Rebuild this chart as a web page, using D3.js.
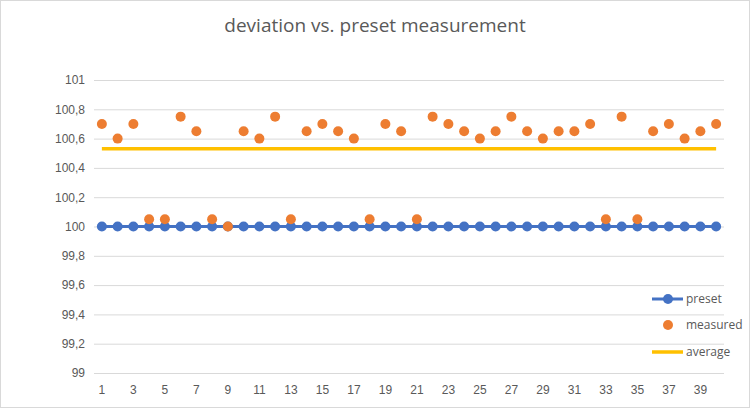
<!DOCTYPE html>
<html><head><meta charset="utf-8">
<script src="https://cdn.jsdelivr.net/npm/d3@7"></script>
<style>body{margin:0;background:#fff}svg{display:block;font-family:"Open Sans",Lato,sans-serif}</style>
</head><body><svg id="c" width="750" height="408"></svg>
<script>
const categories = d3.range(1, 41);
const preset = [100,100,100,100,100,100,100,100,100,100,100,100,100,100,100,100,100,100,100,100,100,100,100,100,100,100,100,100,100,100,100,100,100,100,100,100,100,100,100,100];
const measured = [100.7,100.6,100.7,100.05,100.05,100.75,100.65,100.05,100,100.65,100.6,100.75,100.05,100.65,100.7,100.65,100.6,100.05,100.7,100.65,100.05,100.75,100.7,100.65,100.6,100.65,100.75,100.65,100.6,100.65,100.65,100.7,100.05,100.75,100.05,100.65,100.7,100.6,100.65,100.7];
const averageValue = 100.53;
const yTicks = [99,99.2,99.4,99.6,99.8,100,100.2,100.4,100.6,100.8,101];
const xTickLabels = [1,3,5,7,9,11,13,15,17,19,21,23,25,27,29,31,33,35,37,39];

const svg = d3.select("#c");
svg.append("rect").attr("x",0.5).attr("y",0.5).attr("width",749).attr("height",407).attr("fill","#fff").attr("stroke","#d9d9d9");
const L=94,R=724,T=80,B=373;
const x = d3.scaleBand().domain(categories).range([L,R]);
const cx = d => x(d)+x.bandwidth()/2;
const y = d3.scaleLinear().domain([99,101]).range([B,T]);
const fmt = v => d3.format(".1f")(v).replace(/\.0$/,"").replace(".",",");

svg.append("text").attr("x",375).attr("y",32).attr("text-anchor","middle").attr("font-size",19).attr("fill","#595959").text("deviation vs. preset measurement");

const ga = svg.append("g").attr("transform",`translate(${L},0)`)
  .call(d3.axisLeft(y).tickValues(yTicks).tickSize(-(R-L)).tickFormat(fmt));
ga.select(".domain").remove();
ga.selectAll(".tick line").attr("stroke","#d9d9d9");
ga.selectAll(".tick text").attr("fill","#595959").attr("font-size",12).attr("x",-9);

const gx = svg.append("g").attr("transform",`translate(0,${B})`)
  .call(d3.axisBottom(x).tickValues(xTickLabels).tickSize(0).tickPadding(12));
gx.select(".domain").remove();
gx.selectAll(".tick text").attr("fill","#595959").attr("font-size",12);

// average
svg.append("path").attr("d", d3.line()([[cx(1), y(averageValue)],[cx(40), y(averageValue)]]))
  .attr("stroke","#FFC000").attr("stroke-width",3.5).attr("fill","none");
// preset
svg.append("path").datum(preset).attr("d", d3.line().x((d,i)=>cx(categories[i])).y(d=>y(d)))
  .attr("stroke","#4472C4").attr("stroke-width",3).attr("fill","none");
svg.selectAll(".pm").data(preset).join("circle").attr("cx",(d,i)=>cx(categories[i])).attr("cy",d=>y(d)).attr("r",5).attr("fill","#4472C4");
// measured
svg.selectAll(".mm").data(measured).join("circle").attr("cx",(d,i)=>cx(categories[i])).attr("cy",d=>y(d)).attr("r",5).attr("fill","#ED7D31");

// legend
const lg = svg.append("g").attr("font-size",12).attr("fill","#595959");
const items = [["preset",299],["measured",325],["average",352]];
lg.append("line").attr("x1",652).attr("x2",683).attr("y1",299).attr("y2",299).attr("stroke","#4472C4").attr("stroke-width",3);
lg.append("circle").attr("cx",668).attr("cy",299).attr("r",5).attr("fill","#4472C4");
lg.append("circle").attr("cx",668).attr("cy",325).attr("r",5).attr("fill","#ED7D31");
lg.append("line").attr("x1",652).attr("x2",683).attr("y1",352).attr("y2",352).attr("stroke","#FFC000").attr("stroke-width",3.5);
items.forEach(([t,yy])=>lg.append("text").attr("x",686).attr("y",yy).attr("dy","0.35em").attr("fill","#595959").text(t));
</script></body></html>
